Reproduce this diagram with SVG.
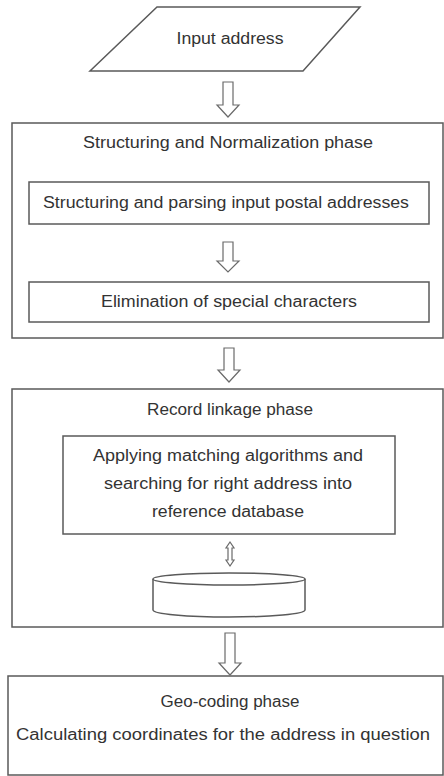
<svg xmlns="http://www.w3.org/2000/svg" width="444" height="776" viewBox="0 0 444 776">
  <style>
    .box { fill: #ffffff; stroke: #5a5a5a; stroke-width: 1.5; }
    .arrow { fill: #ffffff; stroke: #6a6a6a; stroke-width: 1.2; stroke-linejoin: miter; }
    text { font-family: "Liberation Sans", Arial, sans-serif; font-size: 16px; fill: #333333; text-anchor: middle; }
  </style>
  <rect x="0" y="0" width="444" height="776" fill="#ffffff"/>

  <!-- input -->
  <g id="input">
    <polygon class="box" points="157,7 360,7 303,71 90,71"/>
    <text x="230" y="44" textLength="107" lengthAdjust="spacingAndGlyphs">Input address</text>
  </g>

  <!-- structuring and normalization phase -->
  <g id="normalization">
    <rect class="box" x="12" y="123" width="431" height="215"/>
    <text x="228" y="148" textLength="290" lengthAdjust="spacingAndGlyphs">Structuring and Normalization phase</text>
  </g>
  <g id="parsing">
    <rect class="box" x="29" y="182" width="400" height="42"/>
    <text x="226" y="208" textLength="366" lengthAdjust="spacingAndGlyphs">Structuring and parsing input postal addresses</text>
  </g>
  <g id="elimination">
    <rect class="box" x="29" y="282" width="400" height="40"/>
    <text x="229" y="307" textLength="256" lengthAdjust="spacingAndGlyphs">Elimination of special characters</text>
  </g>

  <!-- record linkage phase -->
  <g id="linkage">
    <rect class="box" x="12" y="389" width="431" height="238"/>
    <text x="230" y="415" textLength="166" lengthAdjust="spacingAndGlyphs">Record linkage phase</text>
  </g>
  <g id="matching">
    <rect class="box" x="63" y="436" width="332" height="98"/>
    <text x="228" y="461" textLength="270" lengthAdjust="spacingAndGlyphs">Applying matching algorithms and</text>
    <text x="228" y="489" textLength="248" lengthAdjust="spacingAndGlyphs">searching for right address into</text>
    <text x="228" y="517" textLength="152" lengthAdjust="spacingAndGlyphs">reference database</text>
  </g>
  <g id="database">
    <path class="box" d="M153,579 L153,610 A76,7 0 0 0 305,610 L305,579 A76,6 0 0 0 153,579 Z"/>
    <path class="box" fill="none" d="M153,579 A76,6 0 0 0 305,579"/>
  </g>

  <!-- geo-coding phase -->
  <g id="geocoding">
    <rect class="box" x="8" y="676" width="435" height="99"/>
    <text x="230" y="707" textLength="139" lengthAdjust="spacingAndGlyphs">Geo-coding phase</text>
    <text x="223" y="740" textLength="414" lengthAdjust="spacingAndGlyphs">Calculating coordinates for the address in question</text>
  </g>

  <!-- connectors: hollow block arrows -->
  <g id="connectors">
    <polygon class="arrow" points="223,82 233,82 233,105 239,105 228,117 217,105 223,105"/>
    <polygon class="arrow" points="223,242 233,242 233,261 239,261 228,272 217,261 223,261"/>
    <polygon class="arrow" points="224,348 234,348 234,370 240,370 229,382 218,370 224,370"/>
    <polygon class="arrow" points="230,542 234,548 232,548 232,560 234,560 230,566 226,560 228,560 228,548 226,548"/>
    <polygon class="arrow" points="225,633 235,633 235,663 241,663 230,675 219,663 225,663"/>
  </g>
</svg>
